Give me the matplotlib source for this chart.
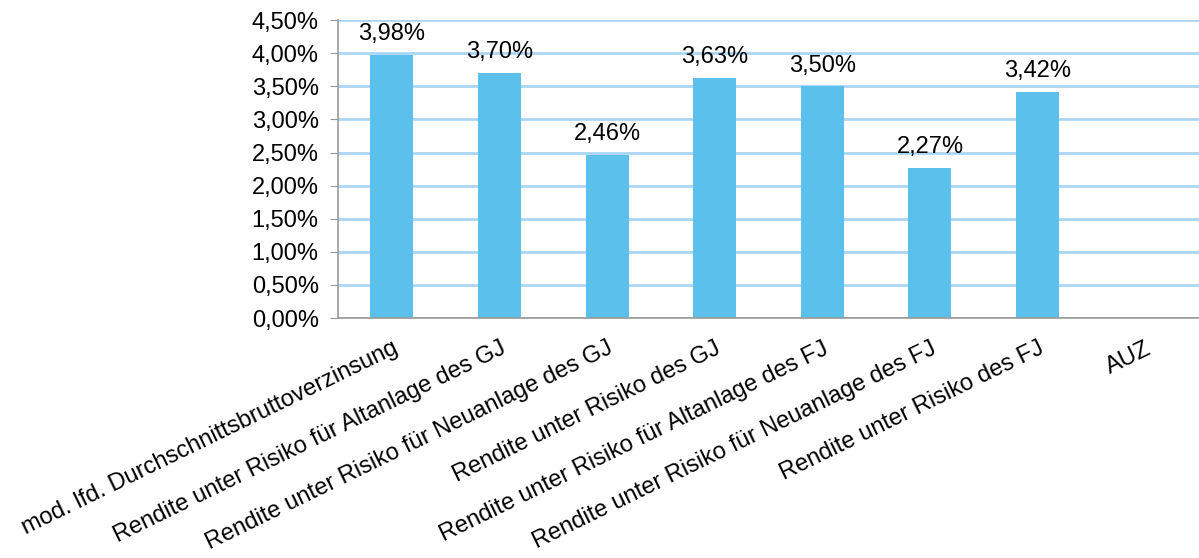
import numpy as np
import matplotlib
matplotlib.use("Agg")
import matplotlib.pyplot as plt
from matplotlib.ticker import FuncFormatter

categories = [
    "mod. lfd. Durchschnittsbruttoverzinsung",
    "Rendite unter Risiko für Altanlage des GJ",
    "Rendite unter Risiko für Neuanlage des GJ",
    "Rendite unter Risiko des GJ",
    "Rendite unter Risiko für Altanlage des FJ",
    "Rendite unter Risiko für Neuanlage des FJ",
    "Rendite unter Risiko des FJ",
    "AUZ",
]
values = [3.98, 3.70, 2.46, 3.63, 3.50, 2.27, 3.42, np.nan]

plt.rcParams["font.family"] = ["Liberation Sans", "DejaVu Sans"]
fs = 17

fig = plt.figure(figsize=(11.99, 5.58), dpi=100)
ax = fig.add_axes([0.282, 0.430, 0.718, 0.534])

x = np.arange(len(categories))
ax.bar(x, values, width=0.4, color="#5bc1ec", zorder=2)
for xi, v in zip(x, values):
    if np.isnan(v):
        continue
    ax.annotate(f"{v:.2f}%".replace(".", ","), (xi, v), xytext=(0, 7),
                textcoords="offset points", ha="center", va="bottom", fontsize=fs)

ax.set_xlim(-0.5, len(categories) - 0.5)
ax.set_ylim(0, 4.5)
ax.set_yticks(np.arange(0, 4.51, 0.5))
ax.yaxis.set_major_formatter(FuncFormatter(lambda v, _: f"{v:.2f}%".replace(".", ",")))
ax.grid(axis="y", color="#aad6f6", lw=2, zorder=0)
ax.set_axisbelow(True)

ax.set_xticks(x)
ax.set_xticklabels(categories, rotation=26, ha="right", rotation_mode="anchor", fontsize=17)
ax.tick_params(axis="x", length=0, pad=14)
ax.tick_params(axis="y", labelsize=fs, length=6, color="#999999", pad=8)
for s in ("top", "right"):
    ax.spines[s].set_visible(False)
for s in ("left", "bottom"):
    ax.spines[s].set_color("#999999")
    ax.spines[s].set_linewidth(1.2)

plt.savefig("out.png", dpi=100)
